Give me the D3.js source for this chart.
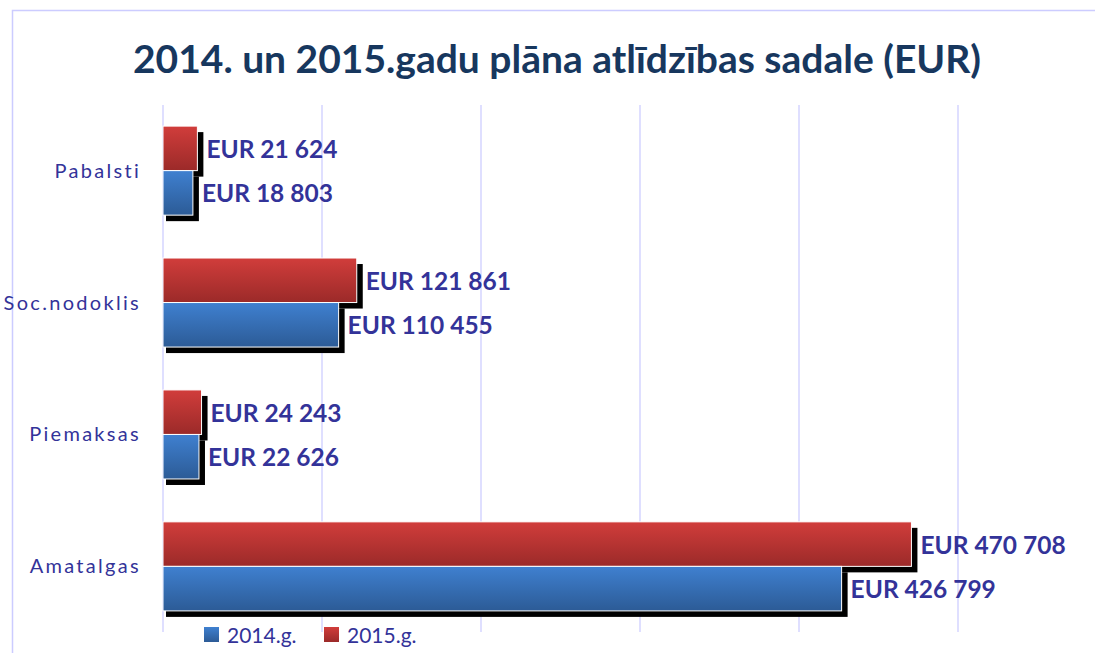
<!DOCTYPE html>
<html lang="lv">
<head>
<meta charset="UTF-8">
<title>Atlīdzības sadale</title>
<script src="https://cdn.jsdelivr.net/npm/d3@7"></script>
<style>
  body { margin: 0; background: #fff; }
</style>
</head>
<body>
<script>
    // dati
    var categories = ['Pabalsti', 'Soc.nodoklis', 'Piemaksas', 'Amatalgas'];
    var series = ['2015.g.', '2014.g.'];
    var values2014 = [18803, 110455, 22626, 426799];
    var values2015 = [21624, 121861, 24243, 470708];
    var xTicks = [0, 100000, 200000, 300000, 400000, 500000];

    var width = 1095, height = 653;
    var svg = d3.select('body').append('svg').attr('width', width).attr('height', height);

    var defs = svg.append('defs');
    function grad(id, top, bottom) {
        var g = defs.append('linearGradient').attr('id', id)
            .attr('x1', 0).attr('y1', 0).attr('x2', 0).attr('y2', 1);
        g.append('stop').attr('offset', '0%').attr('stop-color', top);
        g.append('stop').attr('offset', '100%').attr('stop-color', bottom);
    }
    grad('gRed', '#d13d3b', '#9b2a29');
    grad('gBlue', '#3f80d0', '#2c5b96');
    var fills = {'2015.g.': 'url(#gRed)', '2014.g.': 'url(#gBlue)'};

    // ramis
    svg.append('rect').attr('x', 12.5).attr('y', 10.5).attr('width', 1200).attr('height', 700)
        .attr('fill', 'none').attr('stroke', '#ccccff').attr('stroke-width', 1.5);

    svg.append('text').attr('x', 557).attr('y', 73).attr('text-anchor', 'middle')
        .attr('font-family', 'Lato, sans-serif').attr('font-weight', 'bold')
        .attr('font-size', 39).attr('fill', '#17375e')
        .text('2014. un 2015.gadu plāna atlīdzības sadale (EUR)');

    var x = d3.scaleLinear().domain([0, 500000]).range([163, 958]);
    var y = d3.scaleBand().domain(categories).range([105, 632]).paddingInner(0.325).paddingOuter(0.16);
    var ySub = d3.scaleBand().domain(series).range([0, y.bandwidth()]);

    // režģis
    svg.append('g').selectAll('line').data(xTicks).enter().append('line')
        .attr('x1', function(d){ return x(d); }).attr('x2', function(d){ return x(d); })
        .attr('y1', 105).attr('y2', 632)
        .attr('stroke', '#d4d4ff').attr('stroke-width', 1.5);

    // kategoriju nosaukumi
    svg.append('g').selectAll('text').data(categories).enter().append('text')
        .attr('x', 141).attr('y', function(d){ return y(d) + y.bandwidth() / 2; })
        .attr('dy', '0.35em').attr('text-anchor', 'end')
        .attr('font-family', 'Lato, sans-serif').attr('font-size', 20)
        .attr('letter-spacing', 2.3).attr('fill', '#333399')
        .text(function(d){ return d; });

    var rows = [];
    categories.forEach(function(c, i) {
        rows.push({cat: c, s: '2015.g.', v: values2015[i]});
        rows.push({cat: c, s: '2014.g.', v: values2014[i]});
    });

    var barG = svg.append('g');
    rows.forEach(function(r) {
        var by = y(r.cat) + ySub(r.s), bh = ySub.bandwidth();
        barG.append('rect').attr('x', x(0) + 3).attr('y', by + 6)
            .attr('width', x(r.v) - x(0) + 3).attr('height', bh).attr('fill', '#000');
        barG.append('rect').attr('x', x(0)).attr('y', by)
            .attr('width', x(r.v) - x(0)).attr('height', bh)
            .attr('fill', fills[r.s]).attr('stroke', '#fff').attr('stroke-width', 1);
    });

    var fmt = function(v){ return 'EUR ' + d3.format(',')(v).replace(/,/g, ' '); };
    svg.append('g').selectAll('text').data(rows).enter().append('text')
        .attr('x', function(d){ return x(d.v) + 9; })
        .attr('y', function(d){ return y(d.cat) + ySub(d.s) + ySub.bandwidth() / 2 + 1; })
        .attr('dy', '0.35em')
        .attr('font-family', 'Lato, sans-serif').attr('font-weight', 'bold')
        .attr('font-size', 24.5).attr('fill', '#333399')
        .text(function(d){ return fmt(d.v); });

    // leģenda
    var legend = [{s: '2014.g.', x: 204}, {s: '2015.g.', x: 324}];
    var lg = svg.append('g').selectAll('g').data(legend).enter().append('g')
        .attr('transform', function(d){ return 'translate(' + d.x + ',627)'; });
    lg.append('rect').attr('width', 15).attr('height', 15).attr('fill', function(d){ return fills[d.s]; });
    lg.append('text').attr('x', 23).attr('y', 9).attr('dy', '0.35em')
        .attr('font-family', 'Lato, sans-serif').attr('font-size', 21).attr('fill', '#333399')
        .text(function(d){ return d.s; });
</script>
</body>
</html>
